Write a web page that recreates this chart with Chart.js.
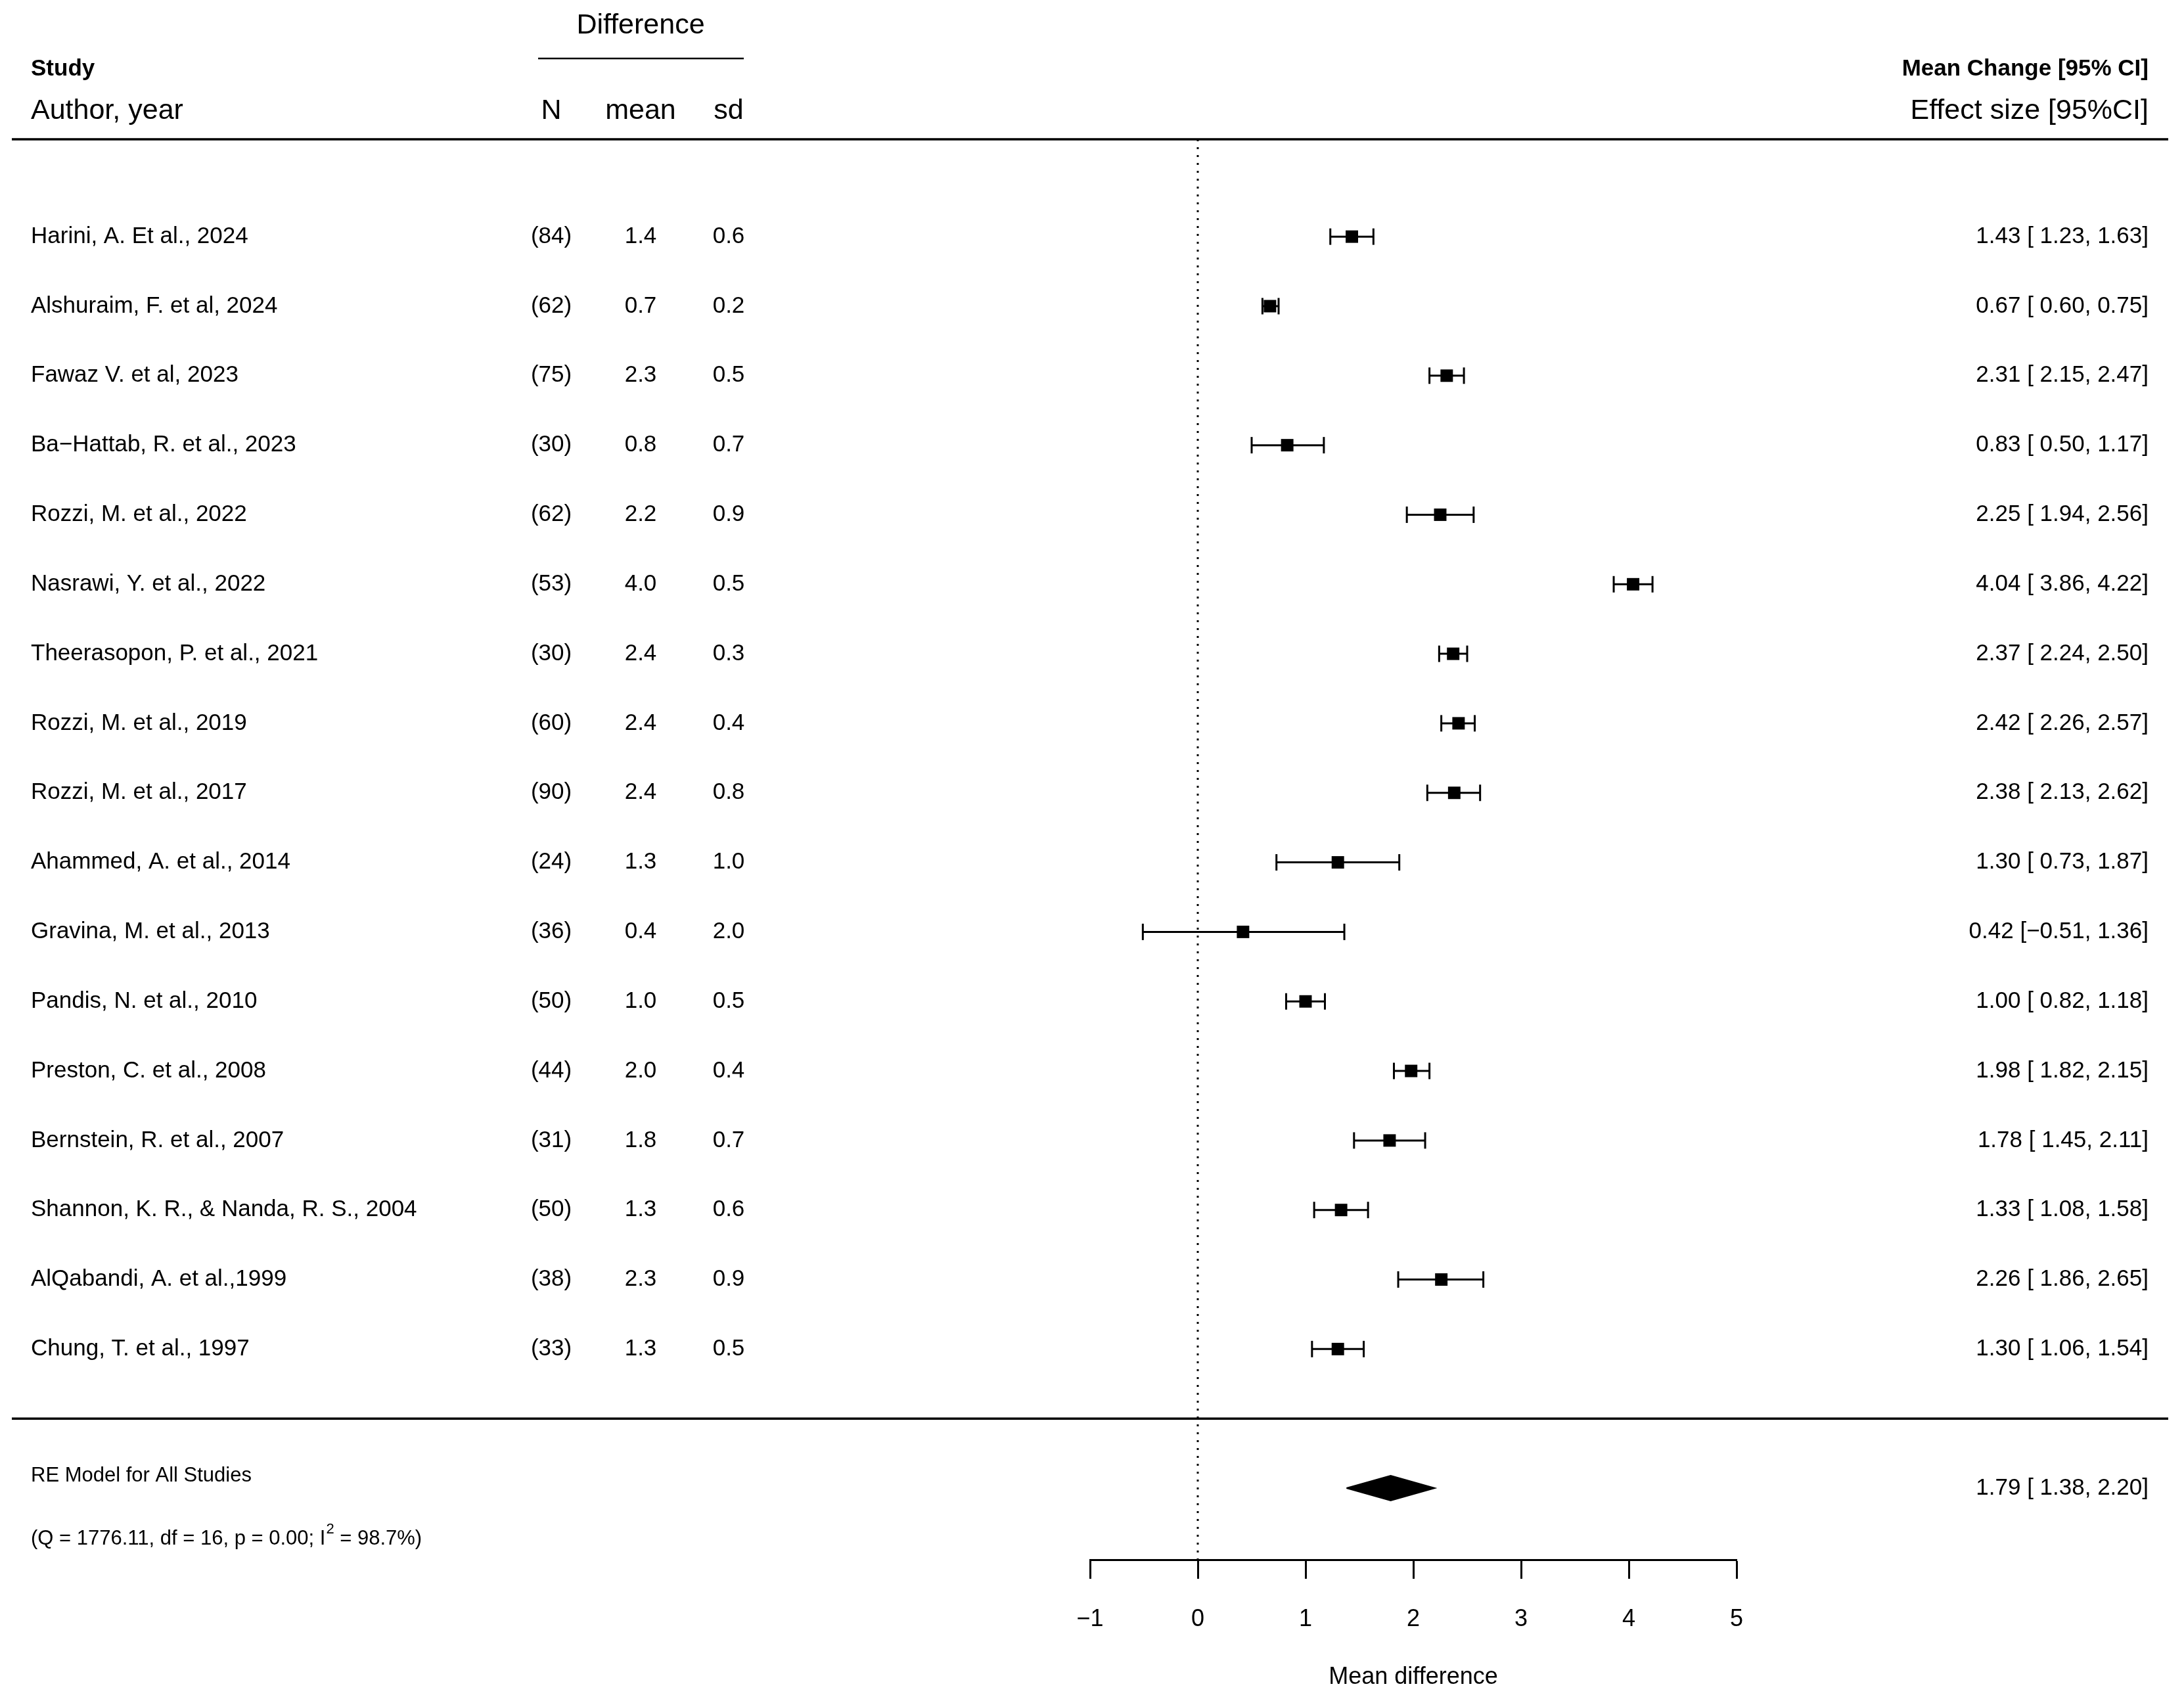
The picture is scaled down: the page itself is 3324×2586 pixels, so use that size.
<!DOCTYPE html>
<html>
<head>
<meta charset="utf-8">
<script src="https://cdn.jsdelivr.net/npm/chart.js@4.4.1/dist/chart.umd.min.js"></script>
<style>
  body { margin: 0; background: #fff; }
  canvas { display: block; }
</style>
</head>
<body>
<canvas id="forest" width="3324" height="2586"></canvas>
<script>
// study rows, top to bottom
var studies = [
  'Harini, A. Et al., 2024',
  'Alshuraim, F. et al, 2024',
  'Fawaz V. et al, 2023',
  'Ba\u2212Hattab, R. et al., 2023',
  'Rozzi, M. et al., 2022',
  'Nasrawi, Y. et al., 2022',
  'Theerasopon, P. et al., 2021',
  'Rozzi, M. et al., 2019',
  'Rozzi, M. et al., 2017',
  'Ahammed, A. et al., 2014',
  'Gravina, M. et al., 2013',
  'Pandis, N. et al., 2010',
  'Preston, C. et al., 2008',
  'Bernstein, R. et al., 2007',
  'Shannon, K. R., & Nanda, R. S., 2004',
  'AlQabandi, A. et al.,1999',
  'Chung, T. et al., 1997'
];
var sampleN = [84, 62, 75, 30, 62, 53, 30, 60, 90, 24, 36, 50, 44, 31, 50, 38, 33];
var diffMean = [1.4, 0.7, 2.3, 0.8, 2.2, 4.0, 2.4, 2.4, 2.4, 1.3, 0.4, 1.0, 2.0, 1.8, 1.3, 2.3, 1.3];
var diffSd = [0.6, 0.2, 0.5, 0.7, 0.9, 0.5, 0.3, 0.4, 0.8, 1.0, 2.0, 0.5, 0.4, 0.7, 0.6, 0.9, 0.5];
var effect = [1.43, 0.67, 2.31, 0.83, 2.25, 4.04, 2.37, 2.42, 2.38, 1.30, 0.42, 1.00, 1.98, 1.78, 1.33, 2.26, 1.30];
var ciLow = [1.23, 0.60, 2.15, 0.50, 1.94, 3.86, 2.24, 2.26, 2.13, 0.73, -0.51, 0.82, 1.82, 1.45, 1.08, 1.86, 1.06];
var ciHigh = [1.63, 0.75, 2.47, 1.17, 2.56, 4.22, 2.50, 2.57, 2.62, 1.87, 1.36, 1.18, 2.15, 2.11, 1.58, 2.65, 1.54];

// random effects summary
var pooled = [1.79, 1.38, 2.20];
var pooledLabel = 'RE Model for All Studies';
var hetText = ['(Q = 1776.11, df = 16, p = 0.00; I', '2', ' = 98.7%)'];

var xTicks = [-1, 0, 1, 2, 3, 4, 5];

var FONT = '"Liberation Sans", Arial, Helvetica, sans-serif';
var Y_TOP = -1.4, Y_BOTTOM = 19.03, SUMMARY_ROW = 18, RULE_ROW = 17;

function fmt(v) {
  return (v < 0 ? '\u2212' : '') + Math.abs(v).toFixed(2);
}
function ciText(e, l, h) {
  return fmt(e) + ' [' + (l < 0 ? '' : ' ') + fmt(l) + ', ' + fmt(h) + ']';
}

// point lists built from the arrays
var ciSegments = [], capPoints = [], estPoints = [];
for (var i = 0; i < studies.length; i++) {
  ciSegments.push({x: ciLow[i], y: i}, {x: ciHigh[i], y: i}, {x: NaN, y: NaN});
  capPoints.push({x: ciLow[i], y: i}, {x: ciHigh[i], y: i});
  estPoints.push({x: effect[i], y: i});
}
var dh = 0.18;
var diamond = [
  {x: pooled[1], y: SUMMARY_ROW},
  {x: pooled[0], y: SUMMARY_ROW - dh},
  {x: pooled[2], y: SUMMARY_ROW},
  {x: pooled[0], y: SUMMARY_ROW + dh},
  {x: pooled[1], y: SUMMARY_ROW}
];

function hline(ctx, x1, x2, y, w) {
  ctx.beginPath();
  ctx.lineWidth = w;
  ctx.moveTo(x1, y);
  ctx.lineTo(x2, y);
  ctx.stroke();
}

var tablePlugin = {
  id: 'forestTable',
  beforeDraw: function(chart) {
    var ctx = chart.ctx;
    ctx.save();
    ctx.fillStyle = '#fff';
    ctx.fillRect(0, 0, chart.width, chart.height);
    ctx.restore();
  },
  afterDraw: function(chart) {
    var ctx = chart.ctx;
    var ys = chart.scales.y;
    ctx.save();
    ctx.fillStyle = '#000';
    ctx.strokeStyle = '#000';
    ctx.textBaseline = 'middle';

    // column headers
    ctx.font = '43px ' + FONT;
    ctx.textAlign = 'center';
    ctx.fillText('Difference', 975, 39);
    hline(ctx, 819, 1132, 89, 2.5);
    ctx.fillText('N', 839, 169);
    ctx.fillText('mean', 975, 169);
    ctx.fillText('sd', 1109, 169);
    ctx.textAlign = 'left';
    ctx.fillText('Author, year', 47, 169);
    ctx.textAlign = 'right';
    ctx.fillText('Effect size [95%CI]', 3270, 169);

    ctx.font = 'bold 35px ' + FONT;
    ctx.textAlign = 'left';
    ctx.fillText('Study', 47, 105);
    ctx.textAlign = 'right';
    ctx.fillText('Mean Change [95% CI]', 3270, 105);

    hline(ctx, 18, 3300, ys.getPixelForValue(Y_TOP), 3.5);
    hline(ctx, 18, 3300, ys.getPixelForValue(RULE_ROW), 3.5);

    // study rows
    ctx.font = '35px ' + FONT;
    for (var i = 0; i < studies.length; i++) {
      var y = ys.getPixelForValue(i);
      ctx.textAlign = 'left';
      ctx.fillText(studies[i], 47, y);
      ctx.textAlign = 'center';
      ctx.fillText('(' + sampleN[i] + ')', 839, y);
      ctx.fillText(diffMean[i].toFixed(1), 975, y);
      ctx.fillText(diffSd[i].toFixed(1), 1109, y);
      ctx.textAlign = 'right';
      ctx.fillText(ciText(effect[i], ciLow[i], ciHigh[i]), 3270, y);
    }

    // summary row
    var sy = ys.getPixelForValue(SUMMARY_ROW);
    ctx.textAlign = 'right';
    ctx.fillText(ciText(pooled[0], pooled[1], pooled[2]), 3270, sy);

    ctx.font = '31px ' + FONT;
    ctx.textAlign = 'left';
    ctx.fillText(pooledLabel, 47, sy - 19);
    var qy = sy + 77, qx = 47;
    ctx.fillText(hetText[0], qx, qy);
    qx += ctx.measureText(hetText[0]).width + 1;
    ctx.font = '22px ' + FONT;
    ctx.fillText(hetText[1], qx, qy - 14);
    qx += ctx.measureText(hetText[1]).width;
    ctx.font = '31px ' + FONT;
    ctx.fillText(hetText[2], qx, qy);
    ctx.restore();
  }
};

new Chart(document.getElementById('forest'), {
  type: 'scatter',
  data: {
    datasets: [
      {
        type: 'line',
        data: diamond,
        fill: 'shape',
        backgroundColor: '#000',
        borderColor: '#000',
        borderWidth: 2,
        pointRadius: 0,
        order: 1
      },
      {
        data: estPoints,
        pointStyle: 'rect',
        pointRadius: 13.4,
        backgroundColor: '#000',
        borderWidth: 0,
        order: 1
      },
      {
        data: capPoints,
        pointStyle: 'line',
        rotation: 90,
        pointRadius: 12.5,
        borderColor: '#000',
        borderWidth: 3,
        order: 2
      },
      {
        type: 'line',
        data: ciSegments,
        spanGaps: false,
        borderColor: '#000',
        borderWidth: 3,
        pointRadius: 0,
        order: 3
      },
      {
        // no-effect reference line
        type: 'line',
        data: [{x: 0, y: Y_TOP}, {x: 0, y: Y_BOTTOM}],
        borderColor: '#000',
        borderWidth: 3,
        borderDash: [3, 9],
        pointRadius: 0,
        order: 5
      }
    ]
  },
  options: {
    responsive: false,
    devicePixelRatio: 1,
    animation: false,
    layout: { padding: { left: 1659, right: 681, top: 212, bottom: 0 } },
    plugins: {
      legend: { display: false },
      tooltip: { enabled: false }
    },
    scales: {
      x: {
        type: 'linear',
        min: xTicks[0],
        max: xTicks[xTicks.length - 1],
        afterFit: function(scale) { scale.height = 212; },
        afterBuildTicks: function(scale) {
          scale.ticks = xTicks.map(function(v) { return {value: v}; });
        },
        ticks: {
          color: '#000',
          padding: 40,
          maxRotation: 0,
          font: { family: FONT, size: 36 },
          callback: function(v) { return v < 0 ? '\u2212' + Math.abs(v) : String(v); }
        },
        grid: {
          drawOnChartArea: false,
          drawTicks: true,
          tickLength: 29,
          tickColor: '#000',
          tickWidth: 3
        },
        border: { display: true, color: '#000', width: 3 },
        title: {
          display: true,
          text: 'Mean difference',
          color: '#000',
          font: { family: FONT, size: 36 },
          padding: { top: 0, bottom: 11 }
        }
      },
      y: {
        type: 'linear',
        display: false,
        reverse: true,
        min: Y_TOP,
        max: Y_BOTTOM
      }
    }
  },
  plugins: [tablePlugin]
});
</script>
</body>
</html>
